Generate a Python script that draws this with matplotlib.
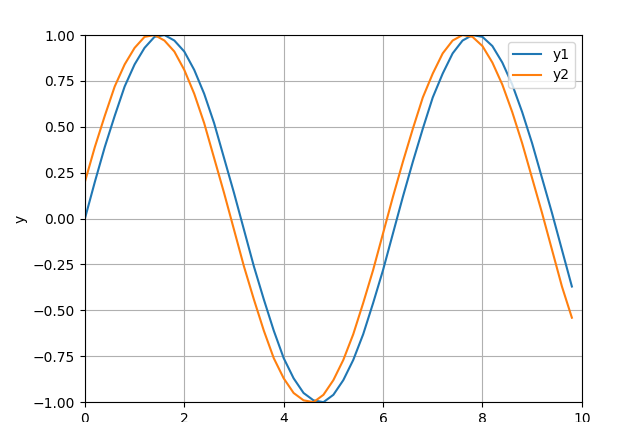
import matplotlib
matplotlib.use("Agg")
from matplotlib import pyplot as plt

x = [0.0, 0.2, 0.4, 0.6, 0.8, 1.0, 1.2, 1.4, 1.6, 1.8,
     2.0, 2.2, 2.4, 2.6, 2.8, 3.0, 3.2, 3.4, 3.6, 3.8,
     4.0, 4.2, 4.4, 4.6, 4.8, 5.0, 5.2, 5.4, 5.6, 5.8,
     6.0, 6.2, 6.4, 6.6, 6.8, 7.0, 7.2, 7.4, 7.6, 7.8,
     8.0, 8.2, 8.4, 8.6, 8.8, 9.0, 9.2, 9.4, 9.6, 9.8]

y1 = [0.00, 0.20, 0.39, 0.56, 0.72, 0.84, 0.93, 0.99, 1.00, 0.97,
      0.91, 0.81, 0.68, 0.52, 0.33, 0.14, -0.06, -0.26, -0.44, -0.61,
      -0.76, -0.87, -0.95, -0.99, -1.00, -0.96, -0.88, -0.77, -0.63, -0.46,
      -0.28, -0.08, 0.12, 0.31, 0.49, 0.66, 0.79, 0.90, 0.97, 1.00,
      0.99, 0.94, 0.85, 0.73, 0.58, 0.41, 0.22, 0.03, -0.17, -0.37]

y2 = [0.20, 0.39, 0.56, 0.72, 0.84, 0.93, 0.99, 1.00, 0.97, 0.91,
      0.81, 0.68, 0.52, 0.33, 0.14, -0.06, -0.26, -0.44, -0.61, -0.76,
      -0.87, -0.95, -0.99, -1.00, -0.96, -0.88, -0.77, -0.63, -0.46, -0.28,
      -0.08, 0.12, 0.31, 0.49, 0.66, 0.79, 0.90, 0.97, 1.00, 0.99,
      0.94, 0.85, 0.73, 0.58, 0.41, 0.22, 0.03, -0.17, -0.37, -0.54]

fig = plt.figure(figsize=(6.29, 4.22), dpi=100)
ax = fig.add_axes([0.135, 0.047, 0.79, 0.87])

ax.plot(x, y1, label="y1")
ax.plot(x, y2, label="y2")

ax.set_xlim(0, 10)
ax.set_ylim(-1, 1)
ax.set_ylabel("y")
ax.grid(True)
ax.legend(loc="upper right")

fig.savefig("out.png", dpi=100)
